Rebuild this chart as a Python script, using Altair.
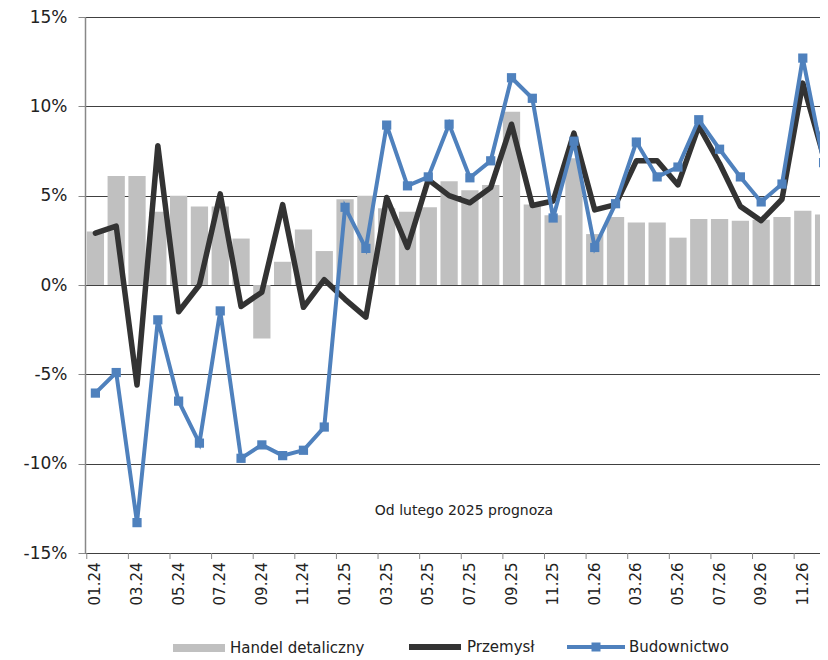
import altair as alt
import pandas as pd

months = ["01.24", "02.24", "03.24", "04.24", "05.24", "06.24", "07.24", "08.24", "09.24", "10.24", "11.24", "12.24",
          "01.25", "02.25", "03.25", "04.25", "05.25", "06.25", "07.25", "08.25", "09.25", "10.25", "11.25", "12.25",
          "01.26", "02.26", "03.26", "04.26", "05.26", "06.26", "07.26", "08.26", "09.26", "10.26", "11.26", "12.26"]

handel = [3.0, 6.1, 6.1, 4.1, 5.0, 4.4, 4.4, 2.6, -3.0, 1.3, 3.1, 1.9,
          4.8, 5.0, 4.3, 4.1, 4.35, 5.8, 5.3, 5.6, 9.7, 4.5, 3.9, 7.1,
          2.85, 3.8, 3.5, 3.5, 2.65, 3.7, 3.7, 3.6, 3.65, 3.8, 4.15, 3.95]

przemysl = [2.9, 3.3, -5.6, 7.8, -1.5, 0.0, 5.1, -1.2, -0.4, 4.5, -1.25, 0.3,
            -0.8, -1.8, 4.9, 2.1, 5.9, 5.0, 4.6, 5.45, 9.0, 4.45, 4.7, 8.5,
            4.2, 4.5, 6.95, 6.95, 5.6, 8.9, 6.8, 4.4, 3.6, 4.8, 11.3, 7.2]

budownictwo = [-6.05, -4.9, -13.3, -1.95, -6.5, -8.85, -1.45, -9.7, -8.95, -9.55, -9.25, -7.95,
               4.35, 2.05, 8.95, 5.55, 6.05, 9.0, 6.0, 6.95, 11.6, 10.45, 3.75, 8.05,
               2.1, 4.55, 8.0, 6.05, 6.6, 9.25, 7.6, 6.05, 4.65, 5.65, 12.7, 6.85]

y_ticks = [-15, -10, -5, 0, 5, 10, 15]
x_label_months = months[::2]
series_names = ["Handel detaliczny", "Przemysł", "Budownictwo"]
note = "Od lutego 2025 prognoza"

df = pd.DataFrame({"month": months, "idx": list(range(len(months))),
                   "handel": handel, "przemysl": przemysl, "budownictwo": budownictwo,
                   "s_h": [series_names[0]] * len(months),
                   "s_p": [series_names[1]] * len(months),
                   "s_b": [series_names[2]] * len(months)})

FONT = "DejaVu Sans"
GRAY = "#c0c0c0"
DARK = "#333333"
BLUE = "#4f81bd"

xscale = alt.Scale(domain=months, range=[0, 749], paddingInner=0.17, paddingOuter=0.085)
yscale = alt.Scale(domain=[-15, 15], nice=False, zero=False)

xaxis = alt.Axis(values=x_label_months, labelAngle=-90, labelFont=FONT, labelFontSize=15,
                 labelColor="#222222", labelPadding=9, ticks=False, domain=True,
                 domainColor="#404040", domainWidth=1, grid=False, title=None)
yaxis = alt.Axis(values=y_ticks, labelExpr="datum.value + '%'", labelFont=FONT, labelFontSize=17,
                 labelColor="#222222", labelPadding=11, tickSize=7, tickColor="#888888",
                 domainColor="#888888", domainWidth=1.5, grid=True, gridColor="#404040",
                 gridWidth=1, title=None)

X = alt.X("month:N", sort=months, scale=xscale, axis=xaxis)

base = alt.Chart(df)

LEG_Y = 605
LEG_Y2 = 601

bars = base.mark_bar().encode(
    x=X,
    y=alt.Y("handel:Q", scale=yscale, axis=yaxis),
    fill=alt.Fill("s_h:N",
                  scale=alt.Scale(domain=[series_names[0]], range=[GRAY]),
                  legend=alt.Legend(orient="none", legendX=88, legendY=LEG_Y, title=None, padding=0,
                                    symbolType="M-1,-0.15L1,-0.15L1,0.15L-1,0.15Z",
                                    symbolSize=2704, symbolStrokeWidth=0, labelOffset=5,
                                    labelFont=FONT, labelFontSize=15, labelColor="#222222")),
)

ticks = base.transform_filter("datum.idx % 2 == 0").mark_rule(color="#888888", strokeWidth=1).encode(
    x=alt.X("month:N", sort=months, scale=xscale, axis=xaxis, bandPosition=0),
    y=alt.value(536), y2=alt.value(542),
)

line_p = base.mark_line(strokeWidth=5.5, strokeJoin="round", strokeCap="round").encode(
    x=X,
    y=alt.Y("przemysl:Q", scale=yscale, axis=yaxis),
    stroke=alt.Stroke("s_p:N",
                      scale=alt.Scale(domain=[series_names[1]], range=[DARK]),
                      legend=alt.Legend(orient="none", legendX=321, legendY=LEG_Y2, title=None, padding=0,
                                        symbolType="M-1,0L1,0", symbolSize=2704,
                                        symbolStrokeWidth=6, labelOffset=3,
                                        labelFont=FONT, labelFontSize=15, labelColor="#222222")),
)

line_b = base.mark_line(strokeWidth=4, color=BLUE).encode(
    x=X,
    y=alt.Y("budownictwo:Q", scale=yscale, axis=yaxis),
)

pts_b = base.mark_point(shape="square", filled=True, size=85, opacity=1).encode(
    x=X,
    y=alt.Y("budownictwo:Q", scale=yscale, axis=yaxis),
    color=alt.Color("s_b:N",
                    scale=alt.Scale(domain=[series_names[2]], range=[BLUE]),
                    legend=alt.Legend(orient="none", legendX=482, legendY=LEG_Y2, title=None, padding=0,
                                      symbolType="M-1,-0.07L-0.155,-0.07L-0.155,-0.155L0.155,-0.155L0.155,-0.07L1,-0.07L1,0.07L0.155,0.07L0.155,0.155L-0.155,0.155L-0.155,0.07L-1,0.07Z",
                                      symbolSize=3364, symbolStrokeWidth=0, labelOffset=4,
                                      labelFont=FONT, labelFontSize=15, labelColor="#222222")),
)

txt = alt.Chart(pd.DataFrame({"t": [note]})).mark_text(
    font=FONT, fontSize=14, color="#222222", align="center", baseline="middle"
).encode(
    x=alt.value(379),
    y=alt.YDatum(-12.63, scale=yscale),
    text="t:N",
)

chart = alt.layer(bars, ticks, line_p, line_b, pts_b, txt).resolve_scale(
    fill="independent", stroke="independent", color="independent"
).properties(
    width=735, height=536,
    autosize=alt.AutoSizeParams(type="none"),
    padding={"left": 77, "top": 9, "right": 0, "bottom": 105},
).configure_view(stroke=None).configure(background="white")

chart.save("out.html", embed_options={"renderer": "svg", "actions": False})
